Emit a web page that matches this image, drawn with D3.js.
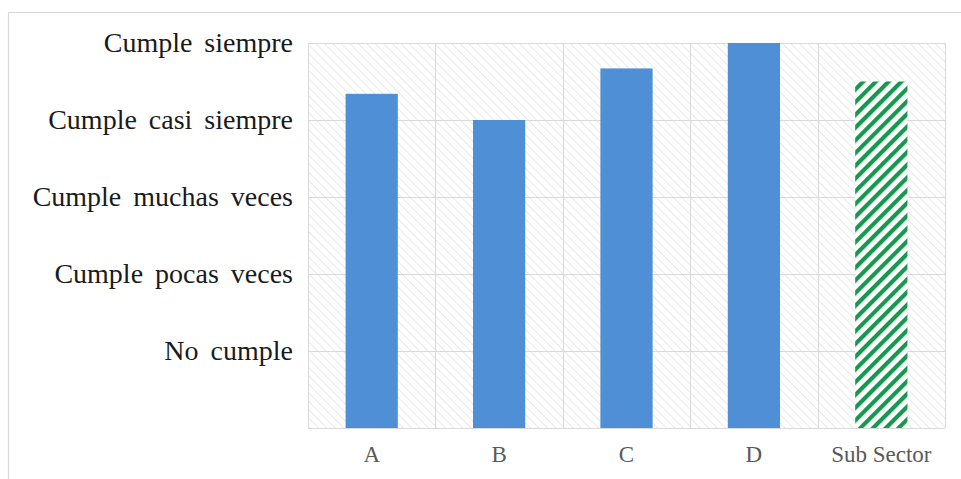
<!DOCTYPE html>
<html>
<head>
<meta charset="utf-8">
<script src="https://cdn.jsdelivr.net/npm/d3@7/dist/d3.min.js"></script>
<style>
  html, body { margin: 0; padding: 0; background: #ffffff; }
  svg { display: block; }
</style>
</head>
<body>
<svg id="chart" width="961" height="479"></svg>
<script>
const categories = ["A", "B", "C", "D", "Sub Sector"];
const values = [4.34, 4.0, 4.67, 5.0, 4.5];
const tickValues = [1, 2, 3, 4, 5];
const tickLabels = ["No cumple", "Cumple pocas veces", "Cumple muchas veces", "Cumple casi siempre", "Cumple siempre"];

const svg = d3.select("#chart");
const W = 961, H = 479;
const margin = { left: 308, right: 16, top: 43, bottom: 51 };
const x0 = margin.left, x1 = W - margin.right;
const y0 = H - margin.bottom, y1 = margin.top;

// outer frame
svg.append("rect")
  .attr("x", 8.5).attr("y", 12.5)
  .attr("width", 980).attr("height", 500)
  .attr("fill", "#ffffff").attr("stroke", "#d9d9d9").attr("stroke-width", 1.2);

const defs = svg.append("defs");
const bg = defs.append("pattern")
  .attr("id", "bgHatch").attr("patternUnits", "userSpaceOnUse")
  .attr("width", 6).attr("height", 6)
  .attr("patternTransform", "rotate(-45)");
bg.append("rect").attr("width", 6).attr("height", 6).attr("fill", "#ffffff");
bg.append("line").attr("x1", 0).attr("y1", 0).attr("x2", 0).attr("y2", 6)
  .attr("stroke", "#d8d8d8").attr("stroke-width", 1.1);

const gh = defs.append("pattern")
  .attr("id", "greenHatch").attr("patternUnits", "userSpaceOnUse")
  .attr("width", 9).attr("height", 9)
  .attr("patternTransform", "rotate(45)");
gh.append("rect").attr("width", 9).attr("height", 9).attr("fill", "#ffffff");
gh.append("rect").attr("x", 0).attr("y", 0).attr("width", 4.2).attr("height", 9)
  .attr("fill", "#17974f");

const x = d3.scaleBand().domain(categories).range([x0, x1])
  .paddingInner(0.59).paddingOuter(0.295);
const y = d3.scaleLinear().domain([0, 5]).range([y0, y1]);
const step = x.step();

// plot background
svg.append("rect")
  .attr("x", x0).attr("y", y1)
  .attr("width", x1 - x0).attr("height", y0 - y1)
  .attr("fill", "url(#bgHatch)");

// horizontal gridlines
svg.append("g").selectAll("line").data([0].concat(tickValues)).join("line")
  .attr("x1", x0).attr("x2", x1)
  .attr("y1", d => Math.round(y(d)) + 0.5).attr("y2", d => Math.round(y(d)) + 0.5)
  .attr("stroke", "#d9d9d9").attr("stroke-width", 1);

// vertical gridlines at category boundaries
const bounds = categories.map(c => x(c) - step * x.paddingInner() / 2).concat([x1]);
svg.append("g").selectAll("line").data(bounds).join("line")
  .attr("x1", d => Math.round(d) + 0.5).attr("x2", d => Math.round(d) + 0.5)
  .attr("y1", y1).attr("y2", y0)
  .attr("stroke", "#d9d9d9").attr("stroke-width", 1);

// bars
svg.append("g").selectAll("rect").data(categories).join("rect")
  .attr("x", d => x(d)).attr("width", x.bandwidth())
  .attr("y", (d, i) => y(values[i]))
  .attr("height", (d, i) => y(0) - y(values[i]))
  .attr("fill", (d, i) => i === categories.length - 1 ? "url(#greenHatch)" : "#4f8fd6");

// y axis labels
const yAxis = d3.axisLeft(y).tickValues(tickValues)
  .tickFormat((d, i) => tickLabels[i]).tickSize(0).tickPadding(15);
const gy = svg.append("g").attr("transform", `translate(${x0},0)`).call(yAxis);
gy.select(".domain").remove();
gy.selectAll("text")
  .attr("font-family", "'Liberation Serif', 'Times New Roman', serif")
  .attr("font-size", 28).attr("word-spacing", 5)
  .attr("fill", "#1a1a1a").attr("dy", "0.3em");

// x axis labels
const xAxis = d3.axisBottom(x).tickSize(0).tickPadding(18);
const gx = svg.append("g").attr("transform", `translate(0,${y0})`).call(xAxis);
gx.select(".domain").remove();
gx.selectAll("text")
  .attr("font-family", "'Liberation Serif', 'Times New Roman', serif")
  .attr("font-size", 23).attr("fill", "#595959");
</script>
</body>
</html>
